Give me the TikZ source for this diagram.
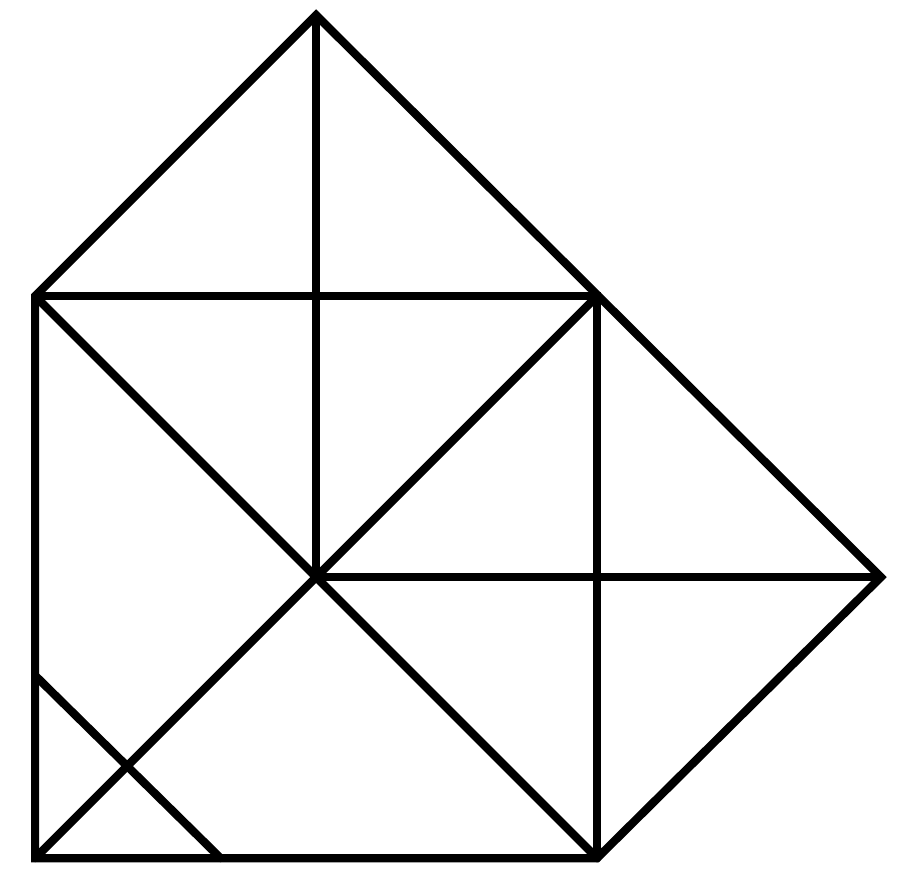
\documentclass[tikz,border=0pt]{standalone}
\usetikzlibrary{calc}
\begin{document}
\begin{tikzpicture}[
    x=3cm,
    y=3cm,
    edge/.style={
        line width=2.5pt,
        line cap=round,
        line join=miter
    }
    ]
    \useasboundingbox (-0.125,-0.117) rectangle (3.078,3.054);

    \coordinate (BL)    at (0,0);
    \coordinate (BR)    at (2,0);
    \coordinate (TL)    at (0,2);
    \coordinate (TR)    at (2,2);
    \coordinate (MID)   at (1,1);
    \coordinate (APEX)  at (1,3);
    \coordinate (RIGHT) at (3.01,1);
    \coordinate (SIDE)  at (0,0.65);
    \coordinate (FOOT)  at (0.66,0);

    % outline
    \draw[edge] (BL) -- (BR) -- (RIGHT) -- (APEX) -- (TL) -- cycle;
    \draw[edge] (TL) -- (TR) -- (BR);

    % inner lines
    \draw[edge] (TL) -- (BR);
    \draw[edge] (BL) -- (TR);
    \draw[edge] (APEX) -- (MID) -- (RIGHT);
    \draw[edge] (SIDE) -- (FOOT);
\end{tikzpicture}
\end{document}
